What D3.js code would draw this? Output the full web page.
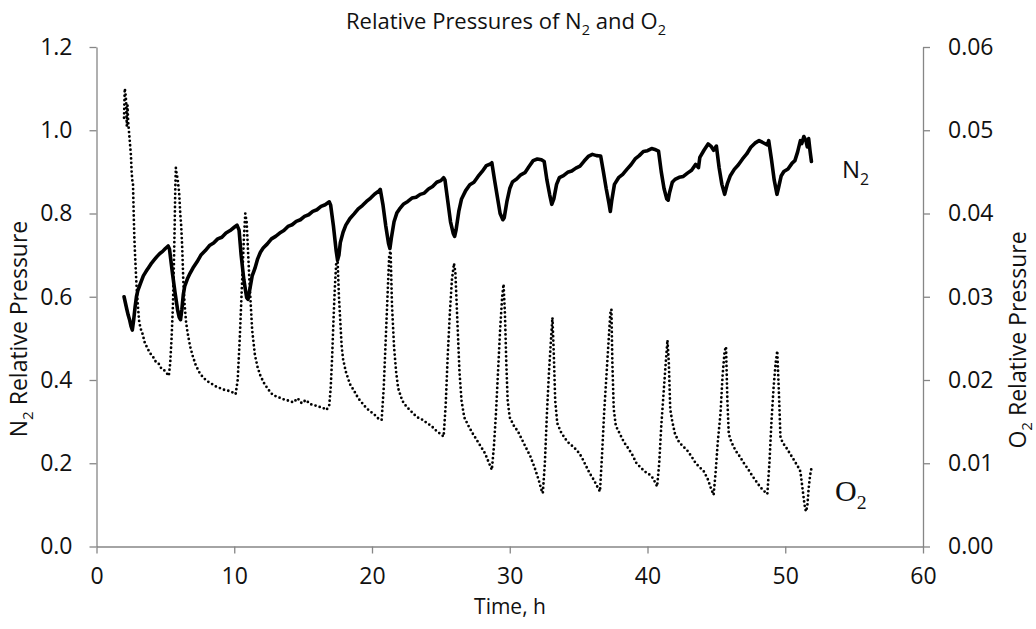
<!DOCTYPE html>
<html>
<head>
<meta charset="utf-8">
<script src="https://cdn.jsdelivr.net/npm/d3@7"></script>
<style>
  body { margin: 0; background: #fff; }
  text, tspan { fill: #111; }
</style>
</head>
<body>
<svg id="chart" width="1036" height="629"></svg>
<script>
// N2 relative pressure readings: [time (h), relative pressure]
const n2Readings = [
  [2.0,0.600],[2.1,0.585],[2.2,0.570],[2.3,0.556],[2.4,0.545],[2.5,0.530],[2.6,0.520],[2.7,0.545],[2.8,0.575],[2.9,0.600],
  [3.0,0.615],[3.2,0.633],[3.4,0.650],[3.6,0.661],[3.8,0.671],[4.0,0.681],[4.2,0.689],[4.4,0.697],[4.6,0.704],[4.8,0.709],
  [5.0,0.716],[5.2,0.722],[5.3,0.714],[5.5,0.660],[5.7,0.610],[5.9,0.566],[6.0,0.551],[6.1,0.545],[6.2,0.570],[6.3,0.605],
  [6.4,0.625],[6.6,0.643],[6.8,0.657],[7.0,0.669],[7.3,0.684],[7.6,0.701],[7.9,0.711],[8.2,0.723],[8.5,0.729],[8.8,0.739],
  [9.1,0.743],[9.4,0.753],[9.7,0.759],[10.0,0.767],[10.2,0.772],[10.35,0.760],[10.5,0.700],[10.7,0.640],[10.9,0.598],[11.0,0.594],
  [11.1,0.612],[11.3,0.650],[11.5,0.668],[11.7,0.691],[11.9,0.707],[12.1,0.717],[12.4,0.727],[12.7,0.739],[13.0,0.745],[13.3,0.753],
  [13.6,0.759],[13.9,0.769],[14.2,0.773],[14.5,0.781],[14.8,0.785],[15.1,0.793],[15.4,0.797],[15.7,0.805],[16.0,0.809],[16.3,0.817],
  [16.6,0.821],[16.9,0.828],[17.0,0.820],[17.2,0.770],[17.4,0.710],[17.5,0.688],[17.6,0.700],[17.7,0.730],[17.9,0.755],[18.1,0.772],
  [18.4,0.788],[18.7,0.799],[19.0,0.811],[19.3,0.819],[19.6,0.829],[19.9,0.837],[20.2,0.847],[20.5,0.854],[20.6,0.858],[20.8,0.820],
  [21.0,0.770],[21.2,0.728],[21.3,0.716],[21.4,0.740],[21.6,0.780],[21.8,0.801],[22.0,0.811],[22.3,0.823],[22.6,0.829],[22.9,0.837],
  [23.2,0.839],[23.5,0.846],[23.8,0.849],[24.1,0.859],[24.4,0.865],[24.7,0.875],[25.0,0.879],[25.2,0.886],[25.3,0.880],[25.5,0.830],
  [25.7,0.780],[25.9,0.752],[26.0,0.745],[26.1,0.760],[26.3,0.805],[26.5,0.835],[26.8,0.855],[27.1,0.869],[27.4,0.875],[27.7,0.889],
  [28.0,0.901],[28.3,0.915],[28.6,0.919],[28.7,0.922],[28.9,0.880],[29.1,0.840],[29.3,0.800],[29.5,0.785],[29.6,0.790],[29.8,0.830],
  [30.0,0.860],[30.2,0.876],[30.5,0.883],[30.8,0.893],[31.1,0.898],[31.4,0.913],[31.7,0.927],[32.0,0.931],[32.3,0.929],[32.5,0.925],
  [32.7,0.880],[32.9,0.845],[33.05,0.822],[33.2,0.835],[33.4,0.870],[33.6,0.886],[33.9,0.891],[34.2,0.899],[34.5,0.902],[34.8,0.909],
  [35.1,0.914],[35.4,0.926],[35.7,0.937],[36.0,0.942],[36.3,0.939],[36.6,0.938],[36.8,0.900],[37.0,0.860],[37.2,0.825],[37.3,0.805],
  [37.4,0.830],[37.6,0.870],[37.9,0.886],[38.2,0.894],[38.5,0.906],[38.8,0.917],[39.1,0.931],[39.4,0.939],[39.7,0.949],[40.0,0.951],
  [40.3,0.956],[40.6,0.953],[40.8,0.950],[41.0,0.900],[41.2,0.860],[41.4,0.835],[41.5,0.832],[41.6,0.850],[41.8,0.875],[42.0,0.882],
  [42.3,0.887],[42.6,0.889],[42.9,0.897],[43.2,0.904],[43.5,0.918],[43.7,0.910],[43.8,0.935],[44.1,0.952],[44.4,0.967],[44.6,0.962],
  [44.8,0.952],[45.0,0.962],[45.2,0.910],[45.4,0.870],[45.6,0.846],[45.8,0.872],[46.0,0.890],[46.3,0.906],[46.6,0.917],[46.9,0.931],
  [47.2,0.943],[47.5,0.959],[47.8,0.969],[48.1,0.975],[48.4,0.970],[48.7,0.965],[48.8,0.975],[49.0,0.930],[49.2,0.880],[49.4,0.846],
  [49.5,0.860],[49.7,0.890],[49.9,0.901],[50.2,0.907],[50.5,0.921],[50.7,0.927],[50.9,0.948],[51.1,0.975],[51.2,0.968],[51.35,0.985],
  [51.5,0.975],[51.6,0.960],[51.7,0.980],[51.8,0.950],[51.9,0.925]
];

// O2 relative pressure readings: [time (h), relative pressure]
const o2Readings = [
  [2.0,0.0515],[2.05,0.0550],[2.1,0.0545],[2.15,0.0535],[2.2,0.0505],[2.25,0.0530],[2.3,0.0510],[2.35,0.0500],[2.4,0.0490],[2.5,0.0470],
  [2.55,0.0450],[2.6,0.0440],[2.65,0.0435],[2.7,0.0400],[2.75,0.0370],[2.8,0.0350],[2.9,0.0315],[3.0,0.0290],[3.1,0.0270],[3.2,0.0262],
  [3.35,0.0255],[3.5,0.0245],[3.7,0.0238],[3.9,0.0232],[4.1,0.0228],[4.3,0.0222],[4.5,0.0220],[4.7,0.0214],[4.9,0.0212],[5.1,0.0208],
  [5.25,0.0205],[5.35,0.0220],[5.45,0.0250],[5.55,0.0290],[5.62,0.0340],[5.68,0.0390],[5.72,0.0430],[5.76,0.0455],[5.8,0.0450],[5.9,0.0440],
  [6.0,0.0425],[6.08,0.0400],[6.15,0.0385],[6.22,0.0360],[6.3,0.0320],[6.4,0.0290],[6.5,0.0270],[6.6,0.0258],[6.8,0.0240],[7.0,0.0228],
  [7.2,0.0218],[7.5,0.0208],[7.8,0.0202],[8.1,0.0198],[8.4,0.0195],[8.7,0.0192],[9.0,0.0190],[9.3,0.0188],[9.6,0.0187],[9.9,0.0185],
  [10.1,0.0183],[10.25,0.0200],[10.4,0.0250],[10.55,0.0310],[10.7,0.0370],[10.8,0.0400],[10.9,0.0390],[11.0,0.0355],[11.1,0.0320],[11.2,0.0290],
  [11.3,0.0260],[11.4,0.0245],[11.5,0.0230],[11.7,0.0215],[11.9,0.0205],[12.2,0.0195],[12.5,0.0188],[12.8,0.0182],[13.1,0.0180],[13.4,0.0178],
  [13.7,0.0176],[14.0,0.0175],[14.3,0.0173],[14.6,0.0178],[14.9,0.0172],[15.2,0.0176],[15.5,0.0171],[15.8,0.0170],[16.1,0.0168],[16.4,0.0167],
  [16.7,0.0164],[16.9,0.0170],[17.0,0.0190],[17.1,0.0225],[17.2,0.0270],[17.3,0.0310],[17.4,0.0340],[17.5,0.0345],[17.6,0.0300],[17.7,0.0270],
  [17.8,0.0240],[17.9,0.0225],[18.1,0.0210],[18.4,0.0195],[18.7,0.0187],[19.0,0.0178],[19.3,0.0172],[19.6,0.0166],[19.9,0.0162],[20.2,0.0158],
  [20.5,0.0153],[20.7,0.0152],[20.85,0.0190],[21.0,0.0250],[21.15,0.0310],[21.25,0.0350],[21.35,0.0355],[21.45,0.0290],[21.6,0.0240],[21.75,0.0210],
  [21.9,0.0190],[22.2,0.0175],[22.5,0.0168],[22.8,0.0163],[23.1,0.0158],[23.4,0.0154],[23.7,0.0152],[24.0,0.0148],[24.3,0.0145],[24.6,0.0140],
  [24.9,0.0136],[25.2,0.0132],[25.35,0.0170],[25.5,0.0230],[25.65,0.0280],[25.8,0.0320],[25.95,0.0340],[26.05,0.0330],[26.2,0.0270],[26.35,0.0210],
  [26.5,0.0175],[26.7,0.0155],[27.0,0.0145],[27.3,0.0136],[27.6,0.0128],[27.9,0.0120],[28.2,0.0112],[28.5,0.0100],[28.7,0.0092],[28.85,0.0120],
  [29.0,0.0160],[29.15,0.0210],[29.3,0.0260],[29.45,0.0300],[29.55,0.0315],[29.65,0.0280],[29.75,0.0220],[29.85,0.0175],[30.0,0.0155],[30.3,0.0145],
  [30.6,0.0138],[30.9,0.0128],[31.2,0.0118],[31.5,0.0108],[31.8,0.0095],[32.1,0.0080],[32.3,0.0068],[32.4,0.0064],[32.55,0.0100],[32.7,0.0160],
  [32.85,0.0210],[33.0,0.0250],[33.1,0.0275],[33.2,0.0230],[33.3,0.0175],[33.45,0.0148],[33.7,0.0138],[34.0,0.0130],[34.3,0.0124],[34.6,0.0120],
  [34.9,0.0115],[35.2,0.0108],[35.5,0.0098],[35.8,0.0088],[36.1,0.0080],[36.35,0.0072],[36.55,0.0066],[36.7,0.0110],[36.85,0.0160],[37.0,0.0200],
  [37.15,0.0240],[37.3,0.0280],[37.38,0.0285],[37.45,0.0220],[37.55,0.0165],[37.7,0.0145],[38.0,0.0135],[38.3,0.0125],[38.6,0.0118],[38.9,0.0110],
  [39.2,0.0100],[39.5,0.0095],[39.8,0.0090],[40.1,0.0087],[40.4,0.0082],[40.7,0.0072],[40.85,0.0100],[41.0,0.0145],[41.15,0.0180],[41.3,0.0215],
  [41.45,0.0248],[41.55,0.0220],[41.65,0.0165],[41.8,0.0150],[42.0,0.0135],[42.3,0.0125],[42.6,0.0120],[42.9,0.0115],[43.2,0.0108],[43.5,0.0100],
  [43.8,0.0095],[44.1,0.0090],[44.4,0.0080],[44.6,0.0070],[44.8,0.0062],[44.95,0.0090],[45.1,0.0125],[45.3,0.0160],[45.45,0.0205],[45.6,0.0235],
  [45.7,0.0240],[45.8,0.0175],[45.9,0.0135],[46.1,0.0125],[46.4,0.0115],[46.7,0.0108],[47.0,0.0100],[47.3,0.0093],[47.6,0.0085],[47.9,0.0078],
  [48.2,0.0071],[48.5,0.0066],[48.7,0.0063],[48.85,0.0100],[49.0,0.0150],[49.15,0.0190],[49.3,0.0220],[49.42,0.0235],[49.55,0.0180],[49.65,0.0132],
  [49.8,0.0125],[50.1,0.0118],[50.4,0.0110],[50.7,0.0102],[50.95,0.0095],[51.1,0.0090],[51.25,0.0070],[51.4,0.0050],[51.5,0.0042],[51.6,0.0048],
  [51.7,0.0070],[51.8,0.0085],[51.9,0.0094]
];

const timeTicks = [0, 10, 20, 30, 40, 50, 60];
const n2Ticks = [0.0, 0.2, 0.4, 0.6, 0.8, 1.0, 1.2];
const o2Ticks = [0.00, 0.01, 0.02, 0.03, 0.04, 0.05, 0.06];

const svg = d3.select("#chart");
const plot = { left: 96.5, right: 923, top: 47, bottom: 546.5 };
const sans = "'Open Sans', 'Liberation Sans', sans-serif";
const serif = "'Liberation Serif', 'Times New Roman', serif";

const x = d3.scaleLinear().domain([0, 60]).range([plot.left, plot.right]);
const yN2 = d3.scaleLinear().domain([0, 1.2]).range([plot.bottom, plot.top]);
const yO2 = d3.scaleLinear().domain([0, 0.06]).range([plot.bottom, plot.top]);

const axisColor = "#868686";
const tickFont = 23;

function styleAxis(g) {
  g.selectAll(".domain").attr("stroke", axisColor).attr("stroke-width", 1.3);
  g.selectAll(".tick line").attr("stroke", axisColor).attr("stroke-width", 1.3);
  g.selectAll(".tick text")
    .attr("font-size", tickFont)
    .attr("font-family", sans)
    .attr("fill", "#111");
}

// Axes
svg.append("g")
  .attr("transform", `translate(0,${plot.bottom})`)
  .call(d3.axisBottom(x).tickValues(timeTicks).tickSize(7).tickSizeOuter(0).tickPadding(14).tickFormat(d3.format("d")))
  .call(styleAxis);

svg.append("g")
  .attr("transform", `translate(${plot.left},0)`)
  .call(d3.axisLeft(yN2).tickValues(n2Ticks).tickSize(7).tickSizeOuter(0).tickPadding(17).tickFormat(d3.format(".1f")))
  .call(styleAxis);

svg.append("g")
  .attr("transform", `translate(${plot.right},0)`)
  .call(d3.axisRight(yO2).tickValues(o2Ticks).tickSize(7).tickSizeOuter(0).tickPadding(18).tickFormat(d3.format(".2f")))
  .call(styleAxis);

// Series
const n2Line = d3.line().x(d => x(d[0])).y(d => yN2(d[1]));
const o2Line = d3.line().x(d => x(d[0])).y(d => yO2(d[1]));

svg.append("path")
  .datum(n2Readings)
  .attr("d", n2Line)
  .attr("fill", "none")
  .attr("stroke", "#000")
  .attr("stroke-width", 3.6)
  .attr("stroke-linejoin", "round")
  .attr("stroke-linecap", "round");

svg.append("path")
  .datum(o2Readings)
  .attr("d", o2Line)
  .attr("fill", "none")
  .attr("stroke", "#000")
  .attr("stroke-width", 2.8)
  .attr("stroke-dasharray", "0,4.4")
  .attr("stroke-linecap", "round");

// Text with subscripts
function subText(g, parts, size, family) {
  const fam = family || sans;
  g.attr("font-family", fam).attr("font-size", size);
  parts.forEach(p => {
    const span = g.append("tspan").attr("font-family", fam);
    if (p.sub) {
      span.attr("font-size", size * 0.66).attr("dy", size * 0.28).text(p.t);
    } else {
      span.attr("font-size", size).attr("dy", p.after ? -size * 0.28 : 0).text(p.t);
    }
  });
}

// Title
const title = svg.append("text").attr("x", 506).attr("y", 29).attr("text-anchor", "middle");
subText(title, [{t: "Relative Pressures of N"}, {t: "2", sub: true}, {t: " and O", after: true}, {t: "2", sub: true}], 22);

// X axis title
svg.append("text").attr("x", 510).attr("y", 614).attr("text-anchor", "middle")
  .attr("font-family", sans).attr("font-size", 21).text("Time, h");

// Left axis title
const leftTitle = svg.append("text")
  .attr("transform", "translate(27,329) rotate(-90)")
  .attr("text-anchor", "middle");
subText(leftTitle, [{t: "N"}, {t: "2", sub: true}, {t: " Relative Pressure", after: true}], 23);

// Right axis title
const rightTitle = svg.append("text")
  .attr("transform", "translate(1026,340) rotate(-90)")
  .attr("text-anchor", "middle");
subText(rightTitle, [{t: "O"}, {t: "2", sub: true}, {t: " Relative Pressure", after: true}], 23);

// Series labels
const n2Label = svg.append("text").attr("x", 842).attr("y", 178);
subText(n2Label, [{t: "N"}, {t: "2", sub: true}], 24);

const o2Label = svg.append("text").attr("x", 835).attr("y", 501);
subText(o2Label, [{t: "O"}, {t: "2", sub: true}], 30, serif);
</script>
</body>
</html>
